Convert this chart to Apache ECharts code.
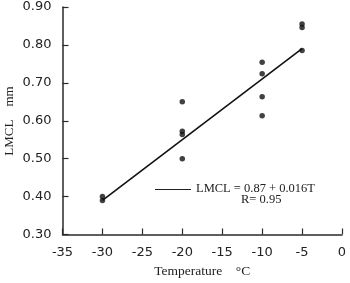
<!DOCTYPE html>
<html>
<head>
<meta charset="utf-8">
<script src="https://cdn.jsdelivr.net/npm/echarts@6/dist/echarts.min.js"></script>
<style>
  html, body { margin: 0; padding: 0; background: #fff; }
  #chart { width: 350px; height: 283px; }
</style>
</head>
<body>
<div id="chart"></div>
<script>
  // measured points, temperature (°C) vs LMCL (mm)
  var obsPoints = [
    [-30, 0.40], [-30, 0.39],
    [-20, 0.65], [-20, 0.572], [-20, 0.564], [-20, 0.50],
    [-10, 0.754], [-10, 0.724], [-10, 0.663], [-10, 0.613],
    [-5, 0.855], [-5, 0.846], [-5, 0.785]
  ];
  // regression line end points
  var fitLine = [[-30, 0.39], [-5, 0.79]];
  var eqText = 'LMCL = 0.87 + 0.016T';
  var rText = 'R= 0.95';
  var yName = 'LMCL    mm';

  var chart = echarts.init(document.getElementById('chart'));
  var axisCol = '#2a2a2a';
  var option = {
    animation: false,
    grid: { left: 62.5, right: 8, top: 7, bottom: 48.5, outerBoundsMode: 'none', containLabel: false },
    xAxis: {
      type: 'value',
      min: -35, max: 0, interval: 5,
      name: 'Temperature    °C',
      nameLocation: 'middle',
      nameGap: 30,
      nameTextStyle: { fontFamily: 'Liberation Serif', fontSize: 13.5, color: '#222' },
      axisLine: { onZero: false, lineStyle: { color: axisCol, width: 1.5 } },
      axisTick: { inside: true, length: 6, lineStyle: { color: axisCol, width: 1.2 } },
      axisLabel: { fontFamily: 'DejaVu Sans', fontSize: 13, color: '#222', margin: 12 },
      splitLine: { show: false }
    },
    yAxis: {
      type: 'value',
      min: 0.3, max: 0.9, interval: 0.1,
      axisLine: { show: true, onZero: false, lineStyle: { color: axisCol, width: 1.5 } },
      axisTick: { show: true, inside: true, length: 6, lineStyle: { color: axisCol, width: 1.2 } },
      axisLabel: {
        fontFamily: 'DejaVu Sans', fontSize: 13, color: '#222', margin: 11,
        formatter: function (v) { return v.toFixed(2); }
      },
      splitLine: { show: false }
    },
    graphic: [
      {
        type: 'text', x: 10, y: 121, rotation: Math.PI / 2,
        style: {
          text: yName, font: '13px "Liberation Serif"', fill: '#222',
          align: 'center', verticalAlign: 'middle'
        }
      },
      {
        type: 'line',
        shape: { x1: 155, y1: 189.5, x2: 191, y2: 189.5 },
        style: { stroke: '#222', lineWidth: 1.2 }
      },
      {
        type: 'text', left: 196, top: 182,
        style: { text: eqText, font: '12.5px "Liberation Serif"', fill: '#222' }
      },
      {
        type: 'text', left: 241, top: 193,
        style: { text: rText, font: '12.5px "Liberation Serif"', fill: '#222' }
      }
    ],
    series: [
      {
        type: 'line',
        data: fitLine,
        symbol: 'none',
        lineStyle: { color: '#111', width: 1.6 },
        z: 2
      },
      {
        type: 'scatter',
        data: obsPoints,
        symbolSize: 5.5,
        itemStyle: { color: '#111' },
        z: 3
      }
    ]
  };
  chart.setOption(option);
</script>
</body>
</html>
